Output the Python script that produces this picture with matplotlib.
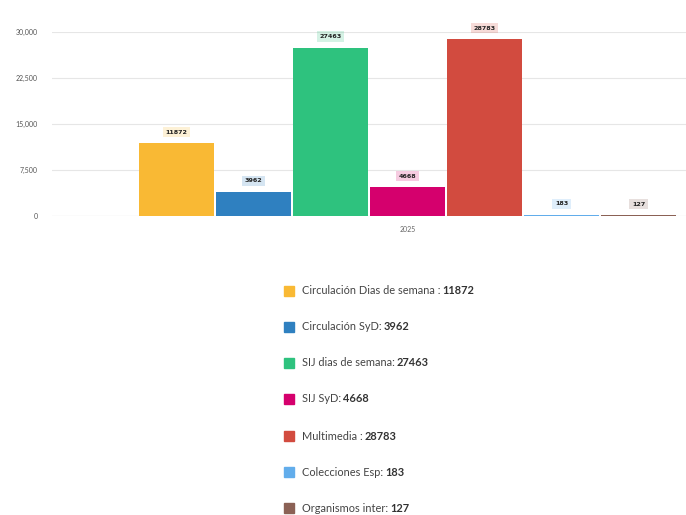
import matplotlib
matplotlib.use("Agg")
import matplotlib.pyplot as plt
from matplotlib.patches import Rectangle

# data
names = ["Circulación Dias de semana :", "Circulación SyD:", "SIJ dias de semana:",
         "SIJ SyD:", "Multimedia :", "Colecciones Esp:", "Organismos inter:"]
values = [11872, 3962, 27463, 4668, 28783, 183, 127]
colors = ["#F9B934", "#2F80C0", "#2EC27E", "#D5006D", "#D24B3F", "#62ADEB", "#8B6155"]
yticks = [0, 7500, 15000, 22500, 30000]
ytick_labels = ["0", "7,500", "15,000", "22,500", "30,000"]
group_label = "2025"

W, H = 686, 515
fig = plt.figure(figsize=(W / 100, H / 100), dpi=100)
ax = fig.add_axes([52 / W, 1 - 216 / H, (686 - 52) / W, (216 - 32) / H])

x = list(range(len(values)))
ax.bar(x, values, width=0.97, color=colors, zorder=2)
ax.set_xlim(-1.617, 6.617)
ax.set_ylim(0, 30000)
ax.set_yticks(yticks)
ax.set_yticklabels(ytick_labels, fontsize=5, color="#555555", family="Lato")
ax.tick_params(axis="y", length=0, pad=10)
ax.set_xticks([3])
ax.set_xticklabels([group_label], fontsize=5, color="#666666", family="Lato")
ax.tick_params(axis="x", length=0, pad=7)
ax.grid(axis="y", color="#e6e6e6", linewidth=0.8, zorder=0)
for s in ax.spines.values():
    s.set_visible(False)
ax.axhline(0, color="#dddddd", linewidth=0.8, zorder=1)

for xi, v, c in zip(x, values, colors):
    ax.annotate(str(v), (xi, v), xytext=(0, 8), textcoords="offset points",
                ha="center", va="center", fontsize=4.6, fontweight="bold",
                color="#222222", family="DejaVu Sans",
                bbox=dict(boxstyle="square,pad=0.4", fc=c, ec="none", alpha=0.2),
                annotation_clip=False)

# legend
fig.canvas.draw()
renderer = fig.canvas.get_renderer()
row_y = [291, 327, 363, 399, 436, 472, 508]
for name, v, c, yy in zip(names, values, colors, row_y):
    fig.patches.append(Rectangle((284 / W, 1 - (yy + 5) / H), 10 / W, 10 / H,
                                 transform=fig.transFigure, color=c))
    t = fig.text(302 / W, 1 - yy / H, name, fontsize=7.9, family="Lato",
                 color="#444444", va="center", ha="left")
    bb = t.get_window_extent(renderer)
    fig.text((bb.x1 + 2) / W, 1 - yy / H, str(v), fontsize=7.9, family="Lato",
             fontweight="bold", color="#333333", va="center", ha="left")

fig.savefig("out.png", dpi=100)
